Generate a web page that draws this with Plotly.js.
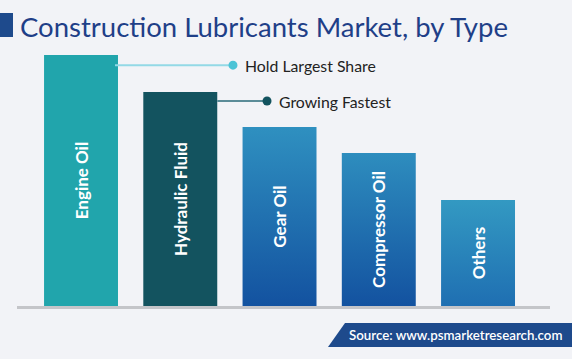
<!DOCTYPE html>
<html>
<head>
<meta charset="utf-8">
<script src="https://cdn.plot.ly/plotly-3.0.1.min.js"></script>
<style>
html,body{margin:0;padding:0;background:#f2f3f7;}
#chart{width:572px;height:359px;}
</style>
</head>
<body>
<div id="chart"></div>
<script>
// ---- data ----
const categories = ["Engine Oil", "Hydraulic Fluid", "Gear Oil", "Compressor Oil", "Others"];
const shareValues = [100, 85.3, 71.3, 61, 42.2];
const barColors = ["#21a5ac", "#13535f", "#1e6aab", "#1e68aa", "#2883b9"];
const barGradTop = [null, null, "#2f90c0", "#2e8dbe", "#3399c2"];
const barGradBottom = [null, null, "#1352a0", "#1352a0", "#1f6fb2"];
const calloutTexts = ["Hold Largest Share", "Growing Fastest"];
const sourceText = "Source: www.psmarketresearch.com";
const titleText = "Construction Lubricants Market, by Type";

// ---- layout geometry ----
const W = 572, H = 359;
const ml = 17, mr = 22, mt = 30, mb = 53;
const pw = W - ml - mr, ph = H - mt - mb;
const xRange = [-0.645, 4.725];
const yRange = [0, 110];
const px = x => (x - ml) / pw;          // pixel -> paper x
const py = y => (H - mb - y) / ph;      // pixel -> paper y
const halfBar = 0.745 / 2;

const trace = {
  type: "bar",
  x: categories.map((c, i) => i),
  y: shareValues,
  text: categories,
  textposition: "inside",
  insidetextanchor: "middle",
  textangle: -90,
  textfont: {family: "Lato, 'Open Sans', sans-serif", size: 17, color: "#ffffff", weight: 700},
  marker: {color: barColors, line: {width: 0}},
  hoverinfo: "skip",
  cliponaxis: false
};

const calloutY = [shareValues[0] - 4, shareValues[1] - 3.6];
const shapes = [
  // title block
  {type: "rect", xref: "paper", yref: "paper", x0: px(0), x1: px(13), y0: py(37), y1: py(13),
   fillcolor: "#1e4a8c", line: {width: 0}, layer: "above"},
  // callout 1
  {type: "line", xref: "x", yref: "y", x0: 0 + halfBar - 0.03, x1: 1.531, y0: calloutY[0], y1: calloutY[0],
   line: {color: "#93d9e6", width: 2}},
  {type: "circle", xref: "x", yref: "y", xsizemode: "pixel", ysizemode: "pixel",
   xanchor: 1.531, yanchor: calloutY[0], x0: -4.5, x1: 4.5, y0: -4.5, y1: 4.5,
   fillcolor: "#4cc3d6", line: {width: 0}},
  // callout 2
  {type: "line", xref: "x", yref: "y", x0: 1 + halfBar, x1: 1.874, y0: calloutY[1], y1: calloutY[1],
   line: {color: "#5b8c98", width: 2}},
  {type: "circle", xref: "x", yref: "y", xsizemode: "pixel", ysizemode: "pixel",
   xanchor: 1.874, yanchor: calloutY[1], x0: -4.5, x1: 4.5, y0: -4.5, y1: 4.5,
   fillcolor: "#13535f", line: {width: 0}},
  // source banner
  {type: "path", xref: "paper", yref: "paper",
   path: `M ${px(328)} ${py(347)} L ${px(345)} ${py(323)} L ${px(572)} ${py(323)} L ${px(572)} ${py(347)} Z`,
   fillcolor: "#1e4a8c", line: {width: 0}}
];

const annotations = [
  {xref: "x", yref: "y", x: 1.632, y: calloutY[0], text: calloutTexts[0], showarrow: false,
   xanchor: "left", yanchor: "middle", font: {family: "Lato, sans-serif", size: 15.8, color: "#222222"}},
  {xref: "x", yref: "y", x: 1.975, y: calloutY[1], text: calloutTexts[1], showarrow: false,
   xanchor: "left", yanchor: "middle", font: {family: "Lato, sans-serif", size: 15.8, color: "#222222"}},
  {xref: "paper", yref: "paper", x: px(347), y: py(335), text: sourceText, showarrow: false,
   xanchor: "left", yanchor: "middle", font: {family: "Lato, sans-serif", size: 13.3, color: "#ffffff", weight: 600}}
];

const layout = {
  width: W, height: H,
  margin: {l: ml, r: mr, t: mt, b: mb, pad: 0},
  paper_bgcolor: "#f2f3f7",
  plot_bgcolor: "#f2f3f7",
  title: {text: titleText, xref: "container", yref: "container", x: 20 / W, xanchor: "left",
          y: 1 - 27 / H, yanchor: "middle",
          font: {family: "Lato, sans-serif", size: 27.5, color: "#1f3f88"}},
  xaxis: {range: xRange, showgrid: false, zeroline: false, showticklabels: false, ticks: "",
          showline: true, linecolor: "#c4c5c9", linewidth: 3, fixedrange: true},
  yaxis: {range: yRange, showgrid: false, zeroline: false, showticklabels: false, ticks: "",
          showline: false, fixedrange: true},
  bargap: 0.255,
  showlegend: false,
  shapes: shapes,
  annotations: annotations
};

Plotly.newPlot("chart", [trace], layout, {displayModeBar: false, staticPlot: true}).then(gd => {
  // vertical gradients on the blue bars
  const svg = gd.querySelector("svg.main-svg");
  const ns = "http://www.w3.org/2000/svg";
  let defs = svg.querySelector("defs");
  if (!defs) { defs = document.createElementNS(ns, "defs"); svg.insertBefore(defs, svg.firstChild); }
  const paths = gd.querySelectorAll(".bars .point path");
  paths.forEach((p, i) => {
    if (!barGradTop[i]) return;
    const g = document.createElementNS(ns, "linearGradient");
    g.setAttribute("id", "barGrad" + i);
    g.setAttribute("x1", "0"); g.setAttribute("y1", "0");
    g.setAttribute("x2", "0"); g.setAttribute("y2", "1");
    const s1 = document.createElementNS(ns, "stop");
    s1.setAttribute("offset", "0"); s1.setAttribute("stop-color", barGradTop[i]);
    const s2 = document.createElementNS(ns, "stop");
    s2.setAttribute("offset", "1"); s2.setAttribute("stop-color", barGradBottom[i]);
    g.appendChild(s1); g.appendChild(s2);
    defs.appendChild(g);
    p.style.fill = "url(#barGrad" + i + ")";
  });
});
</script>
</body>
</html>
